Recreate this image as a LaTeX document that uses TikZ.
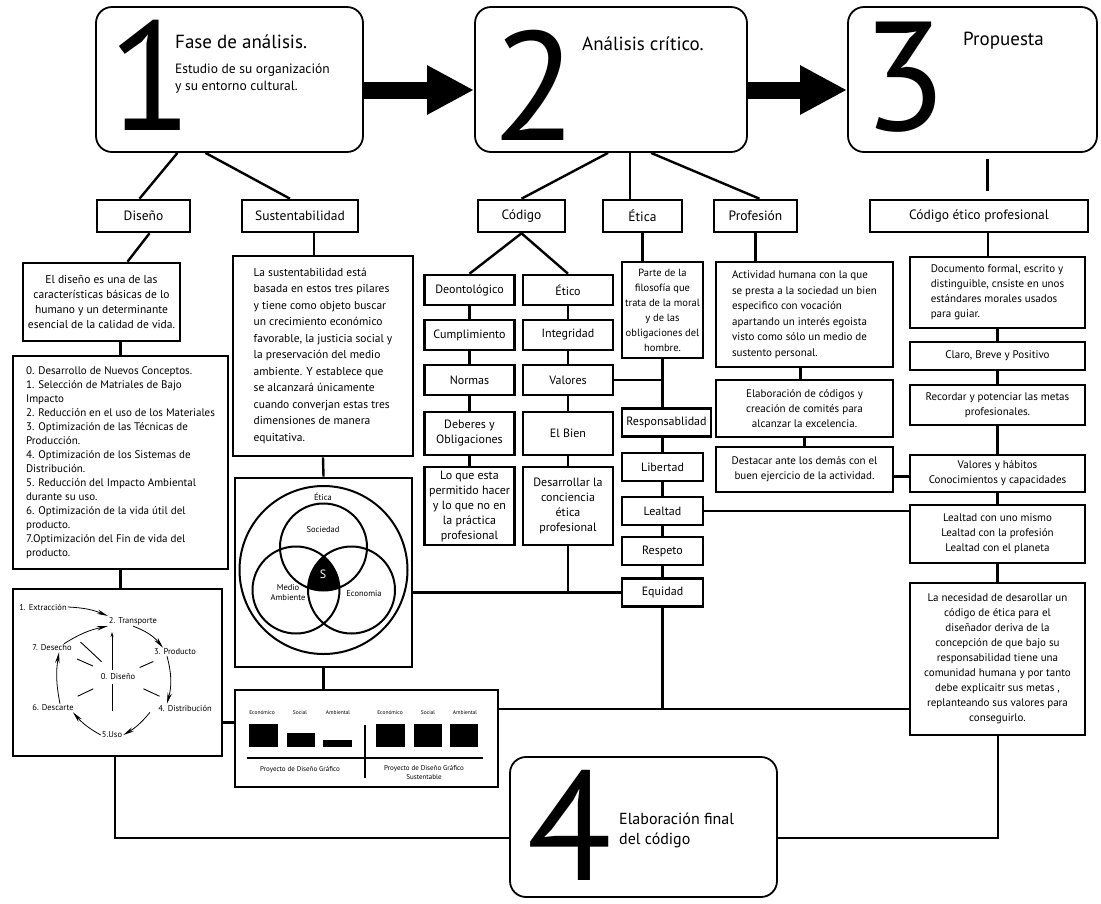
\documentclass[tikz,border=0pt]{standalone}
\usepackage{fontspec}
\setmainfont{PT Sans}
\usetikzlibrary{arrows.meta}
\usetikzlibrary{positioning,calc}

\begin{document}
\begin{tikzpicture}[x=1pt,y=-1pt,
  bigbox/.style={draw,line width=1.8pt,rounded corners=16pt,minimum height=145pt},
  digit/.style={font=\fontsize{155}{155}\selectfont,inner sep=0pt,anchor=base west},
  head/.style={font=\fontsize{19}{22}\selectfont,inner sep=0pt,anchor=base west},
  sub/.style={font=\fontsize{13.5}{17}\selectfont,inner sep=0pt,anchor=north west,align=left},
  box/.style={draw,line width=2.6pt,align=center,inner sep=2pt,font=\fontsize{11}{15}\selectfont},
  tag/.style={box,font=\fontsize{13.5}{16}\selectfont,minimum height=32pt},
  col/.style={box,font=\fontsize{12}{15}\selectfont,minimum width=90pt,minimum height=30pt},
  ecol/.style={col,minimum width=81pt,minimum height=28pt},
  lnk/.style={line width=2.4pt},
  cyc/.style={font=\fontsize{8.5}{10}\selectfont,inner sep=1pt},
  cyar/.style={line width=0.8pt,-{Stealth[length=11pt,width=4.5pt]}},
  spoke/.style={line width=0.9pt},
  ven/.style={line width=2pt},
  vtxt/.style={font=\fontsize{8.5}{10}\selectfont,inner sep=0pt,align=center},
  btxt/.style={font=\fontsize{5.5}{7}\selectfont,inner sep=0pt},
  bcap/.style={font=\fontsize{7}{9}\selectfont,inner sep=0pt,align=center},
  bigarr/.style={line width=17pt,-{Triangle[length=47pt,width=46pt]}}]

\fill[white] (0,0) rectangle (1101,903);
\useasboundingbox (0,0) rectangle (1101,903);

% the four phases
\node[bigbox,minimum width=267pt] (ph1) at (229.5,79.5) {};
\node[bigbox,minimum width=272pt] (ph2) at (611,79.5) {};
\node[bigbox,minimum width=249pt] (ph3) at (972.5,79.5) {};
\node[bigbox,minimum width=267pt,minimum height=140pt] (ph4) at (643.5,827) {};
\node[digit] (d1) at (108,130) {1};
\node[digit] (d2) at (492,140) {2};
\node[digit] (d3) at (862,130) {3};
\node[digit] (d4) at (527,880) {4};
\node[head] (h1) at (175,48) {Fase de análisis.};
\node[sub] (s1) at (175,64) {Estudio de su organización\\y su entorno cultural.};
\node[head] (h2) at (582,50) {Análisis crítico.};
\node[head] (h3) at (963,45) {Propuesta};
\node[sub,font=\fontsize{16}{20}\selectfont] (h4) at (619,813) {Elaboración final\\del código};
\draw[bigarr] ([yshift=-10.5pt]ph1.east) -- ([yshift=-10.5pt]ph2.west);
\draw[bigarr] ([yshift=-10.5pt]ph2.east) -- ([yshift=-10.5pt]ph3.west);

% second level
\node[tag,minimum width=93pt] (dis) at (143.5,216) {Diseño};
\node[tag,minimum width=116pt] (sus) at (300,216) {Sustentabilidad};
\node[tag,minimum width=87pt] (cod) at (521.5,216) {Código};
\node[tag,minimum width=79pt] (eti) at (642.5,216) {Ética};
\node[tag,minimum width=83pt] (pro) at (755.5,216) {Profesión};
\node[tag,minimum width=218pt] (cep) at (979,216) {Código ético profesional};

% diseño column
\node[box,minimum width=157pt,minimum height=78pt,font=\fontsize{11.5}{15}\selectfont] (disT) at (101.5,302)
  {El diseño es una de las\\características básicas de lo\\humano y un determinante\\esencial de la calidad de vida.};
\node[box,align=left,minimum width=215pt,minimum height=213pt,font=\fontsize{11}{14}\selectfont] (disL) at (120.5,462.5)
  {0. Desarrollo de Nuevos Conceptos.\\1. Selección de Matriales de Bajo\\Impacto\\2. Reducción en el uso de los Materiales\\3. Optimización de las Técnicas de\\Producción.\\4. Optimización de los Sistemas de\\Distribución.\\5. Reducción del Impacto Ambiental\\durante su uso.\\6. Optimización de la vida útil del\\producto.\\7.Optimización del Fin de vida del\\producto.};
\node[box,minimum width=209pt,minimum height=167pt] (cyc) at (117.5,672.5) {};
\node[cyc] (c1) at (43,607) {1. Extracción};
\node[cyc] (c2) at (133,621) {2. Transporte};
\node[cyc] (c3) at (175,652) {3. Producto};
\node[cyc] (c7) at (52,648) {7. Desecho};
\node[cyc] (c0) at (118,677) {0. Diseño};
\node[cyc] (c6) at (53,708) {6. Descarte};
\node[cyc] (c4) at (185,708) {4. Distribución};
\node[cyc] (c5) at (112,735) {5.Uso};
\draw[cyar] (c1.east) to[bend left=10] (c2.north west);
\draw[cyar] (c2.south) to[bend left=15] ([xshift=-12pt]c3.north);
\draw[cyar] ([xshift=-8pt]c3.south) to[bend left=15] ([xshift=-18pt]c4.north);
\draw[cyar] ([xshift=-35pt]c4.south) to[bend left=10] (c5.east);
\draw[cyar] (c5.west) to[bend left=10] ([xshift=20pt]c6.south);
\draw[cyar] ([xshift=7pt]c6.north) to[bend left=10] ([xshift=7pt]c7.south);
\draw[cyar] ([xshift=12pt]c7.north) to[bend left=10] (c2.south west);
\draw[spoke] ($(c0)!0.22!(c1)$) -- ($(c0)!0.5!(c1)$);
\foreach \t in {c7,c3,c4,c6}
  \draw[spoke] ($(c0)!0.38!(\t)$) -- ($(c0)!0.62!(\t)$);
\draw[spoke,shorten <=3pt,shorten >=6pt,-{Stealth[length=5pt,width=3pt]}] ([xshift=-6pt]c0.north) -- ([xshift=-6pt]c0.north |- c2.south);
\draw[spoke,shorten <=3pt,shorten >=20pt] ([xshift=-6pt]c0.south) -- ([xshift=-6pt]c0.south |- c5.north);

% sustentabilidad column
\node[box,align=left,minimum width=180pt,minimum height=200pt,font=\fontsize{11.5}{16.5}\selectfont] (susT) at (323,356)
  {La sustentabilidad está\\basada en estos tres pilares\\y tiene como objeto buscar\\un crecimiento económico\\favorable, la justicia social y\\la preservación del medio\\ambiente. Y establece que\\se alcanzará únicamente\\cuando converjan estas tres\\dimensiones de manera\\equitativa.};
\node[box,minimum width=177pt,minimum height=189pt] (ven) at (323.5,572.5) {};
\coordinate (vo) at (323.5,570);
\coordinate (vt) at (323.5,547);
\coordinate (vl) at (296,590);
\coordinate (vr) at (351.5,590);
\begin{scope}
  \clip (vt) circle (43.5pt);
  \clip (vl) circle (43.5pt);
  \fill (vr) circle (43.5pt);
\end{scope}
\draw[ven] (vo) circle (84pt) (vt) circle (43.5pt) (vl) circle (43.5pt) (vr) circle (43.5pt);
\node[vtxt] (vE) at (323,497) {Ética};
\node[vtxt] (vS) at (323,530) {Sociedad};
\node[vtxt] (vM) at (288,593) {Medio\\Ambiente};
\node[vtxt] (vC) at (364,594) {Economia};
\node[vtxt,text=white,font=\fontsize{12}{12}\selectfont] (vX) at (323,574) {S};

% bars
\node[box,minimum width=263pt,minimum height=97pt] (bar) at (366.5,738.5) {};
\node[btxt] (bl1) at (262,713) {Económico};
\node[btxt] (bl2) at (300,713) {Social};
\node[btxt] (bl3) at (338,713) {Ambiental};
\node[btxt] (br1) at (390,713) {Económico};
\node[btxt] (br2) at (428,713) {Social};
\node[btxt] (br3) at (465,713) {Ambiental};
\fill (249,724) rectangle (278,747);
\fill (287,733) rectangle (315,747);
\fill (323,740) rectangle (352,747);
\fill (376,724) rectangle (405,747);
\fill (414,724) rectangle (442,747);
\fill (450,724) rectangle (478,747);
\draw[line width=1.8pt] (247,758) -- (483,758);
\draw[line width=1.8pt] (365,725) -- (365,778);
\node[bcap] (bc1) at (300,770) {Proyecto de Diseño Gráfico};
\node[bcap] (bc2) at (424,773) {Proyecto de Diseño Gráfico\\Sustentable};

% código column
\node[col] (deo) at (469.5,290) {Deontológico};
\node[col] (cum) at (469.5,335) {Cumplimiento};
\node[col] (nor) at (469.5,380) {Normas};
\node[col,minimum height=43pt] (deb) at (469.5,433.5) {Deberes y\\Obligaciones};
\node[col,minimum height=78pt] (loq) at (469.5,506) {Lo que esta\\permitido hacer\\y lo que no en\\la práctica\\profesional};
\node[col] (etc) at (568,290) {Ético};
\node[col] (int) at (568,335) {Integridad};
\node[col] (val) at (568,380) {Valores};
\node[col,minimum height=43pt] (bie) at (568,433.5) {El Bien};
\node[col,minimum height=78pt] (des) at (568,506) {Desarrollar la\\conciencia\\ética\\profesional};

% ética column
\node[ecol,minimum height=96pt,font=\fontsize{10.5}{15}\selectfont] (par) at (662.5,310) {Parte de la\\filosofía que\\trata de la moral\\y de las\\obligaciones del\\hombre.};
\node[ecol,minimum width=89pt] (res) at (666.5,422.5) {Responsablidad};
\node[ecol] (lib) at (662.5,467) {Libertad};
\node[ecol] (lea) at (662.5,511) {Lealtad};
\node[ecol] (rsp) at (662.5,551) {Respeto};
\node[ecol] (equ) at (662.5,592.5) {Equidad};

% profesión column
\node[box,align=left,minimum width=177pt,minimum height=105pt,font=\fontsize{11}{15.5}\selectfont] (act) at (804.5,314.5)
  {Actividad humana con la que\\se presta a la sociedad un bien\\especifico con vocación\\apartando un interés egoista\\visto como sólo un medio de\\sustento personal.};
\node[box,minimum width=177pt,minimum height=57pt] (ela) at (804.5,408.5) {Elaboración de códigos y\\creación de comités para\\alcanzar la excelencia.};
\node[box,minimum width=177pt,minimum height=45pt] (dst) at (804.5,469.5) {Destacar ante los demás con el\\buen ejercicio de la actividad.};

% propuesta column
\node[box,align=left,minimum width=175pt,minimum height=71pt] (doc) at (997.5,292.5) {Documento formal, escrito y\\distinguible, cnsiste en unos\\estándares morales usados\\para guiar.};
\node[box,minimum width=175pt,minimum height=28pt] (cla) at (997.5,356) {Claro, Breve y Positivo};
\node[box,minimum width=175pt,minimum height=40pt] (rec) at (997.5,405) {Recordar y potenciar las metas\\profesionales.};
\node[box,minimum width=175pt,minimum height=37pt] (vh) at (997.5,473.5) {Valores y hábitos\\Conocimientos y capacidades};
\node[box,minimum width=175pt,minimum height=58pt] (lcm) at (997.5,534) {Lealtad con uno mismo\\Lealtad con la profesión\\Lealtad con el planeta};
\node[box,minimum width=175pt,minimum height=152pt] (nec) at (997.5,659) {La necesidad de desarollar un\\código de ética para el\\diseñador deriva de la\\concepción de que bajo su\\responsabilidad tiene una\\comunidad humana y por tanto\\debe explicaitr sus metas ,\\replanteando sus valores para\\conseguirlo.};

% links from the phases
\draw[lnk] ([xshift=-52pt]ph1.south) -- ([xshift=-4pt]dis.north);
\draw[lnk] ([xshift=-24pt]ph1.south) -- ([xshift=-10pt]sus.north);
\draw[lnk] ([xshift=-3pt]ph2.south) -- (cod.north);
\draw[lnk] ([xshift=19pt]ph2.south) -- ([xshift=19pt]ph2.south |- eti.north);
\draw[lnk] ([xshift=40pt]ph2.south) -- ([xshift=4pt]pro.north);
\draw[lnk,shorten <=6pt,shorten >=8pt] ([xshift=15pt]ph3.south) -- ([xshift=15pt]ph3.south |- cep.north);

% links down the columns
\draw[lnk] ([xshift=6pt]dis.south) -- ([xshift=26pt]disT.north);
\draw[lnk] (disT.south -| disL.north) -- (disL.north);
\draw[lnk] (disL.south) -- (disL.south |- cyc.north);
\draw[lnk] ([xshift=14pt]sus.south) -- ([xshift=14pt]sus.south |- susT.north);
\draw[lnk] (susT.south) -- (ven.north);
\draw[lnk] (ven.south) -- (ven.south |- bar.north);
\draw[lnk] ([yshift=16pt]bar.west) -- ([yshift=16pt]bar.west -| cyc.east);
\draw[lnk] (cod.south) -- (deo.north);
\draw[lnk] (cod.south) -- (etc.north);
\foreach \a/\b in {deo/cum,cum/nor,nor/deb,deb/loq,etc/int,int/val,val/bie,bie/des}
  \draw[lnk] (\a.south) -- (\b.north);
\draw[lnk] (eti.south) -- (eti.south |- par.north);
\draw[lnk] (par.south) -- (par.south |- res.north);
\foreach \a/\b in {res/lib,lib/lea,lea/rsp,rsp/equ}
  \draw[lnk] (\a.south -| equ.north) -- (\b.north);
\draw[lnk] (val.east) -- (val.east -| par.south);
\draw[lnk] (ven.east |- equ.west) -- (equ.west);
\draw[lnk] (des.south) -- (des.south |- equ.west);
\draw[lnk] (pro.south) -- (pro.south |- act.north);
\draw[lnk] ([xshift=-4pt]act.south) -- ([xshift=-4pt]ela.north);
\draw[lnk] (ela.south) -- (dst.north);
\draw[lnk] ([yshift=-7pt]dst.east) -- ([yshift=-7pt]dst.east -| vh.west);
\draw[lnk] (lea.east) -- (lea.east -| lcm.west);
\draw[lnk] ([xshift=9pt]cep.south) -- ([xshift=9pt]cep.south |- doc.north);
\foreach \a/\b in {doc/cla,cla/rec,rec/vh,vh/lcm,lcm/nec}
  \draw[lnk] (\a.south) -- (\b.north);
\coordinate (jb) at ([yshift=-20pt]bar.north east);
\draw[lnk] (jb) -- (jb -| nec.west);
\draw[lnk] (equ.south) -- (equ.south |- jb);

% back to the final phase
\coordinate (jl) at (115,838);
\coordinate (jr) at (998,838);
\draw[lnk] (cyc.south -| jl) -- (jl) -- (jl -| ph4.west);
\draw[lnk] (nec.south -| jr) -- (jr) -- (jr -| ph4.east);
\end{tikzpicture}
\end{document}
